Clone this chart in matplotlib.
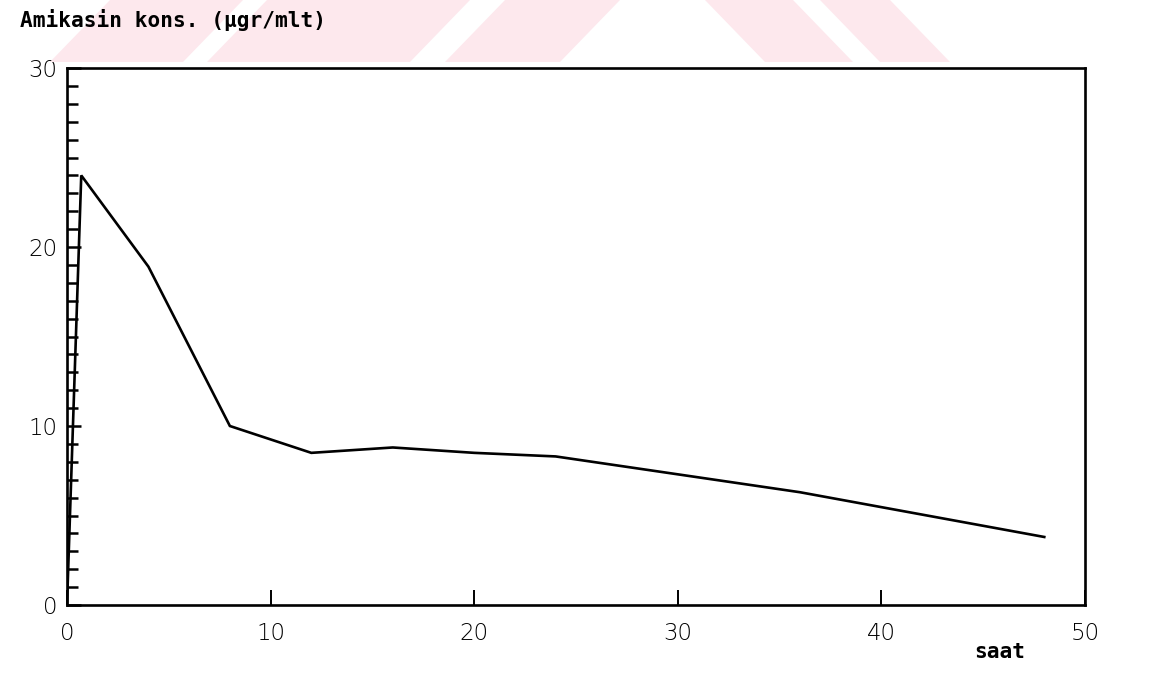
import matplotlib.pyplot as plt
from matplotlib.patches import Polygon
from matplotlib.ticker import MultipleLocator

# amikasin serum level vs time
saat = [0, 0.7, 4, 8, 12, 16, 20, 24, 36, 48]
kons = [0, 24.0, 18.9, 10.0, 8.5, 8.8, 8.5, 8.3, 6.3, 3.8]

x_ticks = [0, 10, 20, 30, 40, 50]
y_ticks = [0, 10, 20, 30]

W, H = 1153, 681
fig = plt.figure(figsize=(W / 100, H / 100), dpi=100)

# pale stamp stripes across the top strip (pixel coords, top/bottom x ranges)
pink = '#fde8ed'
stripes = [
    ((110, 243), (50, 183)),
    ((267, 470), (207, 410)),
    ((505, 620), (445, 560)),
    ((705, 793), (765, 853)),
    ((820, 890), (880, 950)),
]
y_top, y_bot = 0, 62
for (t0, t1), (b0, b1) in stripes:
    pts = [(t0, y_top), (t1, y_top), (b1, y_bot), (b0, y_bot)]
    pts = [(px / W, 1 - py / H) for px, py in pts]
    fig.patches.append(Polygon(pts, closed=True, transform=fig.transFigure,
                               facecolor=pink, edgecolor='none', zorder=0))

ax = fig.add_axes([67 / W, 1 - 605 / H, (1085 - 67) / W, (605 - 68) / H])
ax.set_facecolor('white')
ax.plot(saat, kons, color='black', linewidth=1.9, solid_joinstyle='miter')

ax.set_xlim(0, 50)
ax.set_ylim(0, 30)
for s in ax.spines.values():
    s.set_linewidth(1.9)

ax.set_xticks(x_ticks)
ax.set_yticks(y_ticks)
ax.yaxis.set_minor_locator(MultipleLocator(1))
ax.tick_params(axis='x', direction='in', length=11, width=1.4, pad=12,
               labelsize=16.5)
ax.tick_params(axis='y', which='major', direction='in', length=10, width=1.8,
               pad=7, labelsize=16.5)
ax.tick_params(axis='y', which='minor', direction='in', length=8, width=1.8)
for lbl in ax.get_xticklabels() + ax.get_yticklabels():
    lbl.set_fontfamily('DejaVu Sans')
    lbl.set_fontweight('light')

fig.text(20 / W, 1 - 20 / H, 'Amikasin kons. (µgr/mlt)', ha='left',
         va='center', family='DejaVu Sans Mono', fontweight='bold',
         fontsize=15.2)
fig.text(1000 / W, 1 - 652 / H, 'saat', ha='center', va='center',
         family='DejaVu Sans Mono', fontweight='bold', fontsize=15.2)

fig.savefig('out.png', dpi=100)
